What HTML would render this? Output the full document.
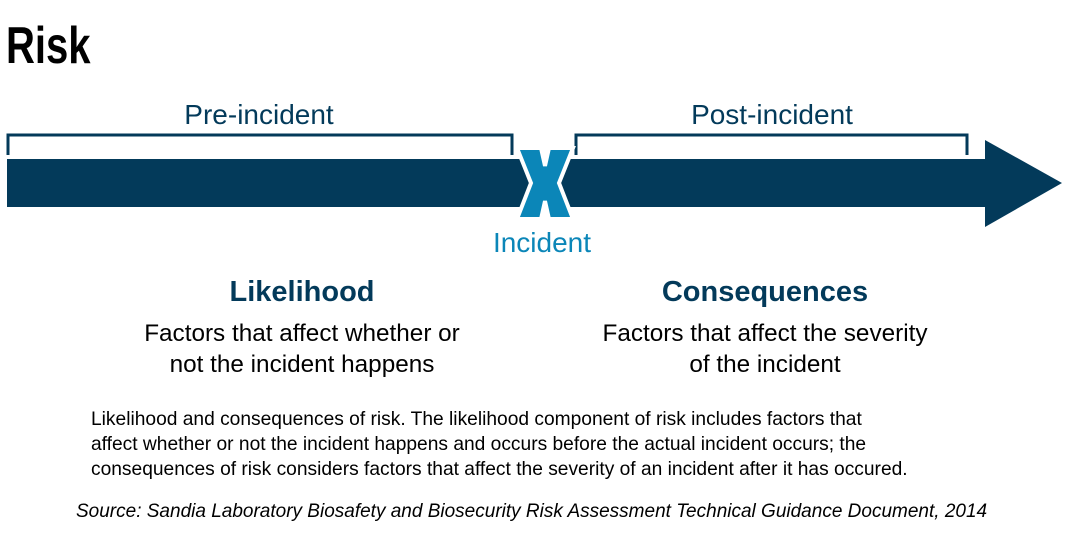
<!DOCTYPE html>
<html><head><meta charset="utf-8"><style>
html,body{margin:0;padding:0;background:#fff;}
svg{display:block;}
</style></head><body>
<svg width="1068" height="542" viewBox="0 0 1068 542" xmlns="http://www.w3.org/2000/svg" font-family="Liberation Sans, sans-serif">
<text x="6" y="63" font-size="52" font-weight="bold" fill="#000" font-family="Liberation Sans Narrow, Liberation Sans, sans-serif" transform="translate(6,0) scale(0.77,1) translate(-6,0)">Risk</text>
<text x="259" y="124" font-size="28" fill="#033a5a" text-anchor="middle">Pre-incident</text>
<text x="772" y="124" font-size="28" fill="#033a5a" text-anchor="middle">Post-incident</text>
<polyline points="8,155 8,135 512,135 512,155" fill="none" stroke="#033a5a" stroke-width="3"/>
<polyline points="576,155 576,135 967,135 967,155" fill="none" stroke="#033a5a" stroke-width="3"/>
<rect x="7" y="159" width="980" height="48" fill="#033a5a"/>
<polygon points="985,140 1062,183 985,227" fill="#033a5a"/>
<polygon points="517,148 541,148 545,166 549,148 573,148 559,183 573,219 549,219 545,201 541,219 517,219 531,183" fill="#0b86b8" stroke="#fff" stroke-width="4" stroke-linejoin="miter"/>
<text x="542" y="252" font-size="28" fill="#0b86b8" text-anchor="middle">Incident</text>
<text x="302" y="301" font-size="29" font-weight="bold" fill="#033a5a" text-anchor="middle">Likelihood</text>
<text x="765" y="301" font-size="29" font-weight="bold" fill="#033a5a" text-anchor="middle">Consequences</text>
<g font-size="24.3" fill="#000" text-anchor="middle">
<text x="302" y="341">Factors that affect whether or</text>
<text x="302" y="372">not the incident happens</text>
<text x="765" y="341">Factors that affect the severity</text>
<text x="765" y="372">of the incident</text>
</g>
<g font-size="19.2" fill="#000">
<text x="91" y="425">Likelihood and consequences of risk. The likelihood component of risk includes factors that</text>
<text x="91" y="450">affect whether or not the incident happens and occurs before the actual incident occurs; the</text>
<text x="91" y="475">consequences of risk considers factors that affect the severity of an incident after it has occured.</text>
</g>
<text x="76" y="517" font-size="19" font-style="italic" fill="#000">Source: Sandia Laboratory Biosafety and Biosecurity Risk Assessment Technical Guidance Document, 2014</text>
</svg>
</body></html>
